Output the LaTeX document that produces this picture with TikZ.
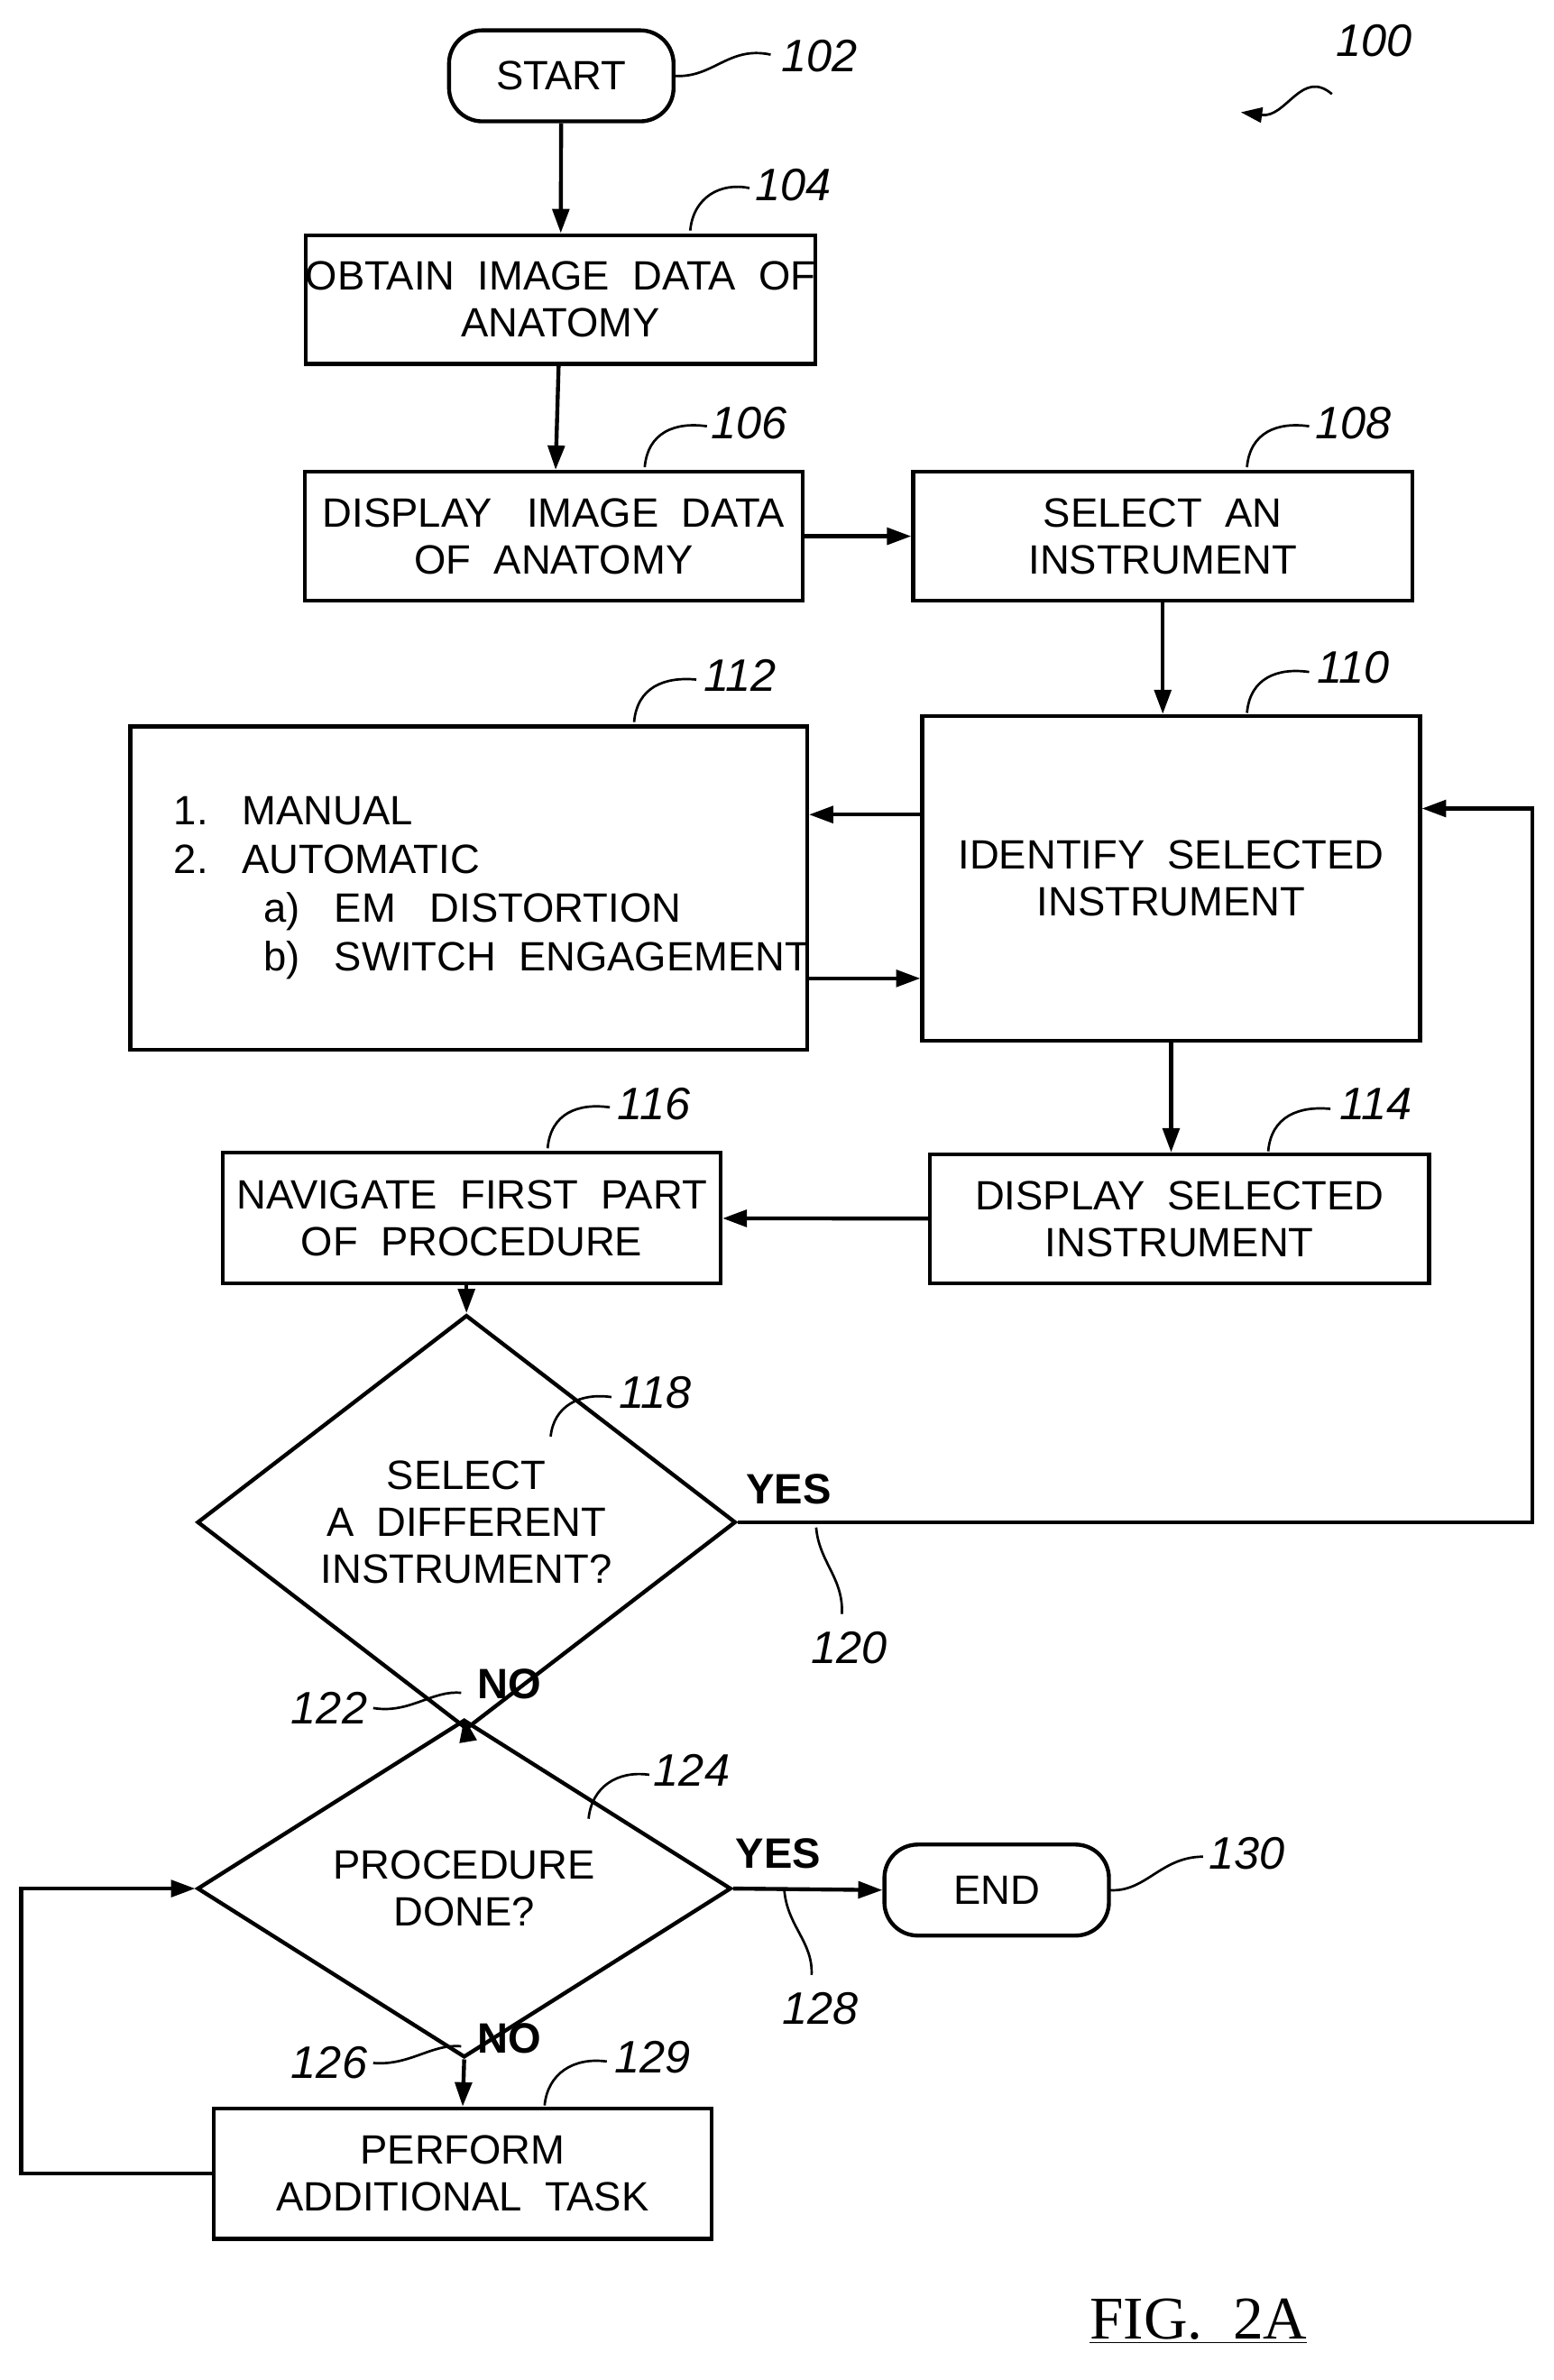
\documentclass[tikz,border=0pt]{standalone}
\usepackage{fontspec}
\setmainfont{Liberation Sans}
\newfontfamily\figfont{Liberation Serif}
\usetikzlibrary{arrows.meta}
\usetikzlibrary{shapes.geometric}

\begin{document}
\begin{tikzpicture}[x=1pt,y=1pt,yscale=-1,line width=2.6pt,
  every node/.style={font=\fontsize{27}{31}\selectfont},
  box/.style={draw,align=center,inner sep=0pt},
  term/.style={draw,rounded corners=22pt,inner sep=0pt,minimum width=148pt,minimum height=60pt},
  dec/.style={draw,diamond,align=center,inner sep=0pt},
  arr/.style={-{Triangle[length=16pt,width=11pt]}},
  ref/.style={font=\itshape\fontsize{30}{34}\selectfont},
  lbl/.style={font=\bfseries\fontsize{28}{32}\selectfont}]
\useasboundingbox (0,0) rectangle (1024,1569);

% Blocks
\node[term] (start) at (370,50) {START};
\node[box,minimum width=329pt,minimum height=85pt] (obtain) at (369.5,197.5) {OBTAIN\ \ IMAGE\ \ DATA\ \ OF\\ANATOMY};
\node[box,minimum width=328pt,minimum height=85pt] (display) at (365,353.5) {DISPLAY\ \ \ IMAGE\ \ DATA\\OF\ \ ANATOMY};
\node[box,minimum width=329pt,minimum height=85pt] (select) at (766.5,353.5) {SELECT\ \ AN\\INSTRUMENT};
\node[box,minimum width=328pt,minimum height=214pt] (identify) at (772,579) {IDENTIFY\ \ SELECTED\\INSTRUMENT};
\node[box,minimum width=446pt,minimum height=213pt] (modes) at (309,585.5) {};
\node[anchor=west,align=left,font=\fontsize{27}{32}\selectfont] (modelist) at (110,585.5)
  {1.\ \ \ MANUAL\\2.\ \ \ AUTOMATIC\\\hspace*{2.2em}a)\ \ \ EM\ \ \ DISTORTION\\\hspace*{2.2em}b)\ \ \ SWITCH\ \ ENGAGEMENT};
\node[box,minimum width=329pt,minimum height=85pt] (showsel) at (777.5,803.5) {DISPLAY\ \ SELECTED\\INSTRUMENT};
\node[box,minimum width=328pt,minimum height=86pt] (navigate) at (311,803) {NAVIGATE\ \ FIRST\ \ PART\\OF\ \ PROCEDURE};
\node[dec,minimum width=355pt,minimum height=163pt] (different) at (307.5,1003.5) {SELECT\\A\ \ DIFFERENT\\INSTRUMENT?};
\node[dec,minimum width=352pt,minimum height=160pt] (done) at (306,1245) {PROCEDURE\\DONE?};
\node[term] (end) at (657,1246) {END};
\node[box,minimum width=328pt,minimum height=86pt] (task) at (305,1433) {PERFORM\\ADDITIONAL\ \ TASK};

% Connectors
\draw[arr] (start) -- (obtain);
\draw[arr] (obtain) -- (display);
\draw[arr] (display) -- (select);
\draw[arr] (select) -- (select.south |- identify.north);
\draw[arr] (identify.west |- 0,537) -- (modes.east |- 0,537);
\draw[arr] (modes.east |- 0,645) -- (identify.west |- 0,645);
\draw[arr] (identify) -- (identify.south |- showsel.north);
\draw[arr] (showsel) -- (navigate);
\draw[arr] (navigate.south -| different.north) -- (different.north);
\draw[arr] (different.east) -- (1010,1003.5) -- (1010,533) -- (identify.east |- 0,533);
\draw[arr] (different.south) -- (done.north);
\draw[arr] (done.east) -- (end.west);
\draw[arr] (done.south) -- (task.north);
\draw[arr] (task.west) -- (14,1433) -- (14,1245) -- (done.west);

% Branch labels
\node[lbl] (yes1) at (520,982) {YES};
\node[lbl] (no1) at (336,1110) {NO};
\node[lbl] (yes2) at (513,1222) {YES};
\node[lbl] (no2) at (336,1344) {NO};

% Reference numerals
\node[ref] (r100) at (906,27) {100};
\node[ref] (r102) at (540,37) {102};
\node[ref] (r104) at (523,122) {104};
\node[ref] (r106) at (494,279) {106};
\node[ref] (r108) at (892,279) {108};
\node[ref] (r110) at (892,440) {110};
\node[ref] (r112) at (488,445) {112};
\node[ref] (r114) at (907,728) {114};
\node[ref] (r116) at (431,728) {116};
\node[ref] (r118) at (432,918) {118};
\node[ref] (r120) at (560,1086) {120};
\node[ref] (r122) at (217,1126) {122};
\node[ref] (r124) at (456,1167) {124};
\node[ref] (r128) at (541,1324) {128};
\node[ref] (r130) at (822,1222) {130};
\node[ref] (r126) at (217,1360) {126};
\node[ref] (r129) at (430,1356) {129};

% Leaders
\begin{scope}[line width=1.6pt]
\draw[-{Triangle[length=14pt,width=10pt]}] (878,62) .. controls (858,45) and (848,78) .. (818,74);
\draw (444,50) .. controls (470,52) and (480,30) .. (508,36);
\draw (455,152) .. controls (457,130) and (475,120) .. (494,124);
\draw (425,308) .. controls (427,285) and (445,278) .. (466,281);
\draw (822,308) .. controls (824,285) and (842,278) .. (863,281);
\draw (822,470) .. controls (824,447) and (842,440) .. (863,443);
\draw (418,476) .. controls (420,453) and (438,446) .. (459,448);
\draw (836,759) .. controls (838,736) and (856,729) .. (877,731);
\draw (361,757) .. controls (363,734) and (381,727) .. (402,730);
\draw (363,947) .. controls (365,927) and (382,918) .. (403,921);
\draw (538,1007) .. controls (540,1030) and (556,1040) .. (555,1064);
\draw (304,1116) .. controls (285,1114) and (270,1130) .. (246,1126);
\draw (388,1199) .. controls (390,1178) and (407,1167) .. (428,1170);
\draw (517,1246) .. controls (519,1270) and (536,1280) .. (535,1302);
\draw (731,1246) .. controls (755,1248) and (765,1224) .. (793,1224);
\draw (304,1349) .. controls (285,1347) and (270,1362) .. (246,1360);
\draw (359,1388) .. controls (361,1367) and (378,1356) .. (400,1359);
\end{scope}

% Figure title
\node[font=\figfont\fontsize{40}{44}\selectfont] (fig) at (790,1530) {\underline{FIG.\ \ 2A}};
\end{tikzpicture}
\end{document}
